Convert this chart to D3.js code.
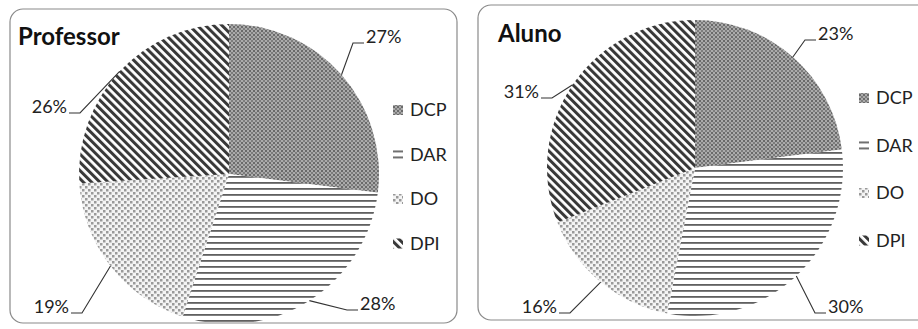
<!DOCTYPE html>
<html>
<head>
<meta charset="utf-8">
<script src="https://cdn.jsdelivr.net/npm/d3@7"></script>
<style>
  body { margin: 0; background: #fff; }
  svg { display: block; font-family: Lato, "Open Sans", sans-serif; }
</style>
</head>
<body>
<div class="chart"></div>
<script>
// values
const categories = ["DCP", "DAR", "DO", "DPI"]
const professor = [27, 28, 19, 26]
const aluno = [23, 30, 16, 31]
const titles = ["Professor", "Aluno"]

const width = 918
const height = 329

// layout of each panel (frame, pie, legend, label elbows relative to pie centre)
const layout = [
    { frame: [10, 9, 447, 314], cx: 229, cy: 174, r: 150, title: [18, 45],
      legend: [393, 110, 44.5],
      elbows: [[124, -131], [118, 136], [-147, 139], [-149, -61]] },
    { frame: [478, 5, 460, 315], cx: 695, cy: 168, r: 148, title: [498, 42],
      legend: [859, 98, 47.5],
      elbows: [[110, -128], [120, 145], [-125, 145], [-143, -70]] }
]

const svg = d3.select(".chart").append("svg")
    .attr("width", width)
    .attr("height", height)

const defs = svg.append("defs")

// fill patterns, one per category
function makePatterns() {
    const dcp = defs.append("pattern").attr("id", "pat-DCP")
        .attr("patternUnits", "userSpaceOnUse").attr("width", 4).attr("height", 4)
    dcp.append("rect").attr("width", 4).attr("height", 4).attr("fill", "#ababab")
    dcp.append("rect").attr("x", 0).attr("y", 0).attr("width", 2).attr("height", 2).attr("fill", "#6a6a6a")
    dcp.append("rect").attr("x", 2).attr("y", 2).attr("width", 2).attr("height", 2).attr("fill", "#7c7c7c")

    const dar = defs.append("pattern").attr("id", "pat-DAR")
        .attr("patternUnits", "userSpaceOnUse").attr("width", 8).attr("height", 6)
    dar.append("rect").attr("width", 8).attr("height", 6).attr("fill", "#fff")
    dar.append("rect").attr("y", 2).attr("width", 8).attr("height", 1.8).attr("fill", "#606060")

    const dO = defs.append("pattern").attr("id", "pat-DO")
        .attr("patternUnits", "userSpaceOnUse").attr("width", 6).attr("height", 6)
    dO.append("rect").attr("width", 6).attr("height", 6).attr("fill", "#f4f4f4")
    dO.append("rect").attr("x", 0).attr("y", 0).attr("width", 2.5).attr("height", 2.5).attr("fill", "#9a9a9a")
    dO.append("rect").attr("x", 3).attr("y", 3).attr("width", 2.5).attr("height", 2.5).attr("fill", "#9a9a9a")

    const dpi = defs.append("pattern").attr("id", "pat-DPI")
        .attr("patternUnits", "userSpaceOnUse").attr("width", 5.8).attr("height", 10)
        .attr("patternTransform", "rotate(-45)")
    dpi.append("rect").attr("width", 5.8).attr("height", 10).attr("fill", "#fff")
    dpi.append("rect").attr("width", 3).attr("height", 10).attr("fill", "#383838")
}
makePatterns()

const pie = d3.pie().sort(null).value(d => d.value)

function drawPanel(values, i) {
    const L = layout[i]
    const data = categories.map((c, k) => ({ cat: c, value: values[k] }))
    const total = d3.sum(values)
    const arcs = pie(data)
    const arc = d3.arc().innerRadius(0).outerRadius(L.r)

    const g = svg.append("g")

    const clipId = "clip" + i
    defs.append("clipPath").attr("id", clipId)
        .append("rect")
        .attr("x", L.frame[0]).attr("y", L.frame[1])
        .attr("width", L.frame[2]).attr("height", L.frame[3])
        .attr("rx", 13)

    g.append("rect")
        .attr("x", L.frame[0]).attr("y", L.frame[1])
        .attr("width", L.frame[2]).attr("height", L.frame[3])
        .attr("rx", 13)
        .attr("fill", "#fff")

    // clip in page coordinates, then move the pie to its centre
    g.append("g")
        .attr("clip-path", `url(#${clipId})`)
      .append("g")
        .attr("transform", `translate(${L.cx},${L.cy})`)
        .selectAll("path")
        .data(arcs)
        .join("path")
        .attr("d", arc)
        .attr("fill", d => `url(#pat-${d.data.cat})`)

    g.append("rect")
        .attr("x", L.frame[0]).attr("y", L.frame[1])
        .attr("width", L.frame[2]).attr("height", L.frame[3])
        .attr("rx", 13)
        .attr("fill", "none")
        .attr("stroke", "#8a8a8a")
        .attr("stroke-width", 1.2)

    g.append("text")
        .attr("x", L.title[0]).attr("y", L.title[1])
        .attr("font-weight", "bold")
        .attr("font-size", 24)
        .attr("fill", "#111")
        .text(titles[i])

    // leader lines + percent labels
    const labels = g.append("g")
        .attr("transform", `translate(${L.cx},${L.cy})`)
    arcs.forEach((d, k) => {
        const mid = (d.startAngle + d.endAngle) / 2
        const p0 = [Math.sin(mid) * L.r, -Math.cos(mid) * L.r]
        const e = L.elbows[k]
        const right = e[0] > 0
        const p2 = [e[0] + (right ? 11 : -11), e[1]]
        labels.append("path")
            .attr("d", d3.line()([p0, e, p2]))
            .attr("fill", "none")
            .attr("stroke", "#333")
            .attr("stroke-width", 1.1)
        labels.append("text")
            .attr("x", p2[0] + (right ? 2 : -2))
            .attr("y", e[1])
            .attr("text-anchor", right ? "start" : "end")
            .attr("font-size", 18)
            .attr("fill", "#222")
            .text(d3.format(".0%")(d.value / total))
    })

    // legend
    const lg = g.append("g")
        .selectAll("g")
        .data(categories)
        .join("g")
        .attr("transform", (c, k) => `translate(${L.legend[0]},${L.legend[1] + k * L.legend[2]})`)
    lg.append("rect")
        .attr("x", 0).attr("y", -5)
        .attr("width", 10).attr("height", 10)
        .attr("fill", c => `url(#pat-${c})`)
    lg.append("text")
        .attr("x", 17).attr("y", 0)
        .attr("dy", "0.35em")
        .attr("font-size", 18)
        .attr("fill", "#222")
        .text(c => c)
}

drawPanel(professor, 0)
drawPanel(aluno, 1)
</script>
</body>
</html>
